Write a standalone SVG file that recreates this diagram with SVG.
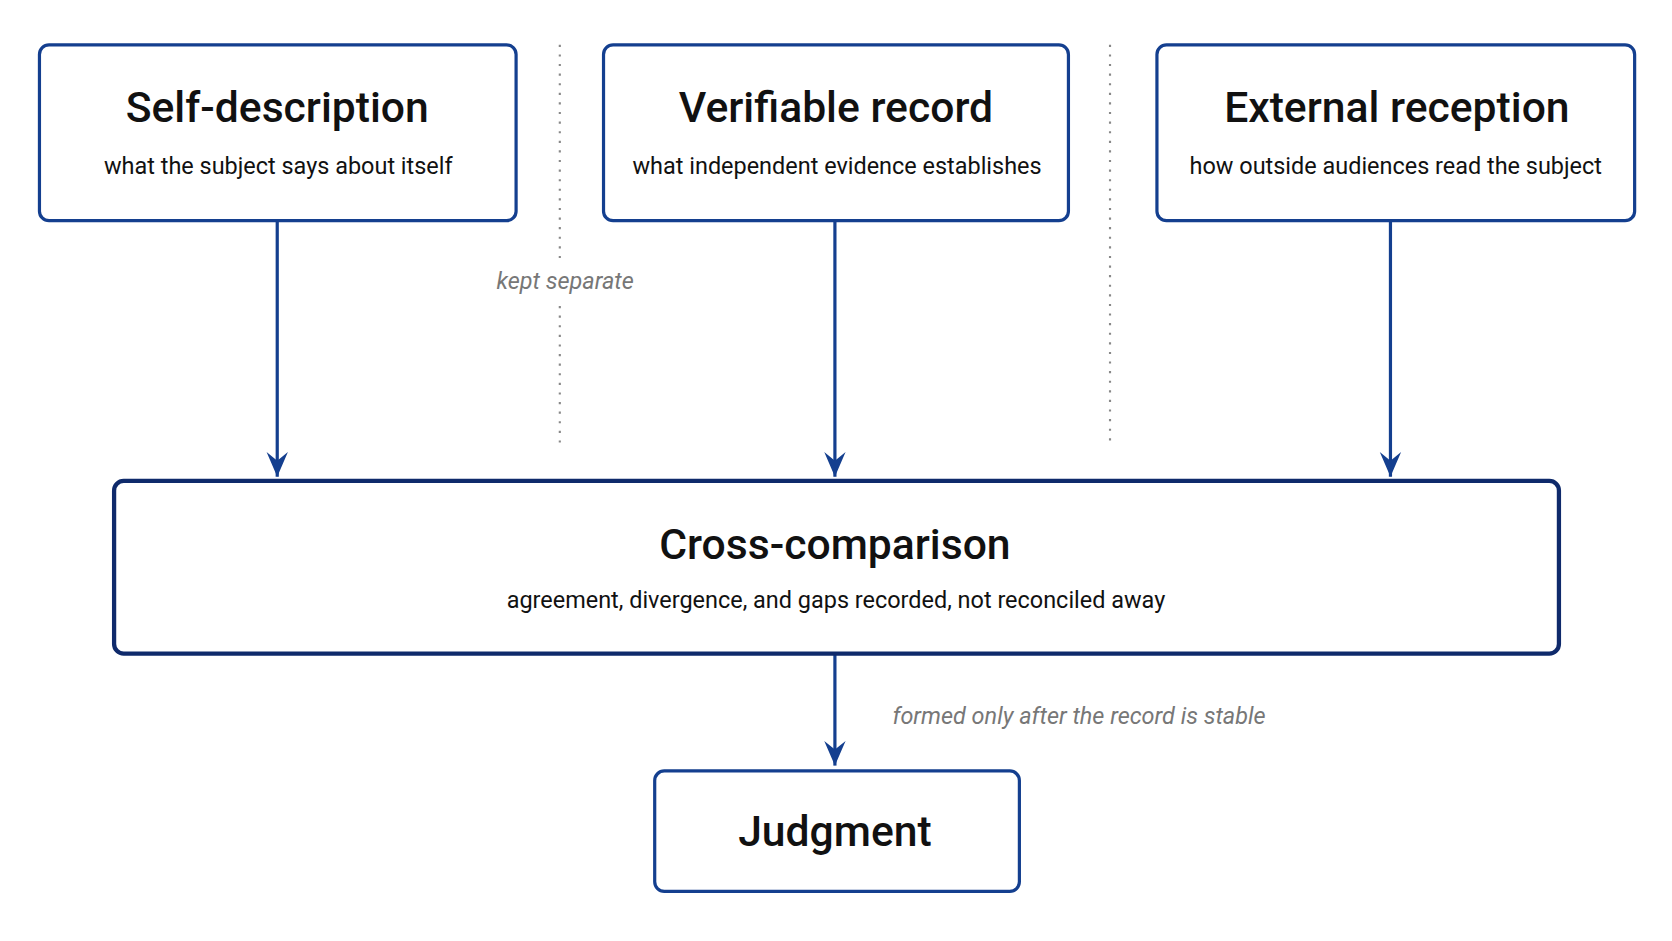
<svg xmlns="http://www.w3.org/2000/svg" width="1672" height="941" viewBox="0 0 1672 941">
<defs>
<style>
.box{fill:#fff;stroke:#143f8f;stroke-width:3}
.cbox{fill:#fff;stroke:#0f2a6b;stroke-width:4}
.t{font-family:Roboto,"Liberation Sans",sans-serif;font-weight:500;font-size:40px;fill:#111;text-anchor:middle}
.s{font-family:Roboto,"Liberation Sans",sans-serif;font-size:22px;fill:#111;text-anchor:middle}
.n{font-family:Roboto,"Liberation Sans",sans-serif;font-style:italic;font-size:22px;fill:#777}
.c{stroke:#143f8f;stroke-width:3;fill:none;marker-end:url(#a)}
.d{stroke:#888;stroke-width:2;stroke-dasharray:2 7;fill:none}
</style>
<marker id="a" viewBox="0 0 20 24" refX="10" refY="24" markerWidth="20" markerHeight="24" markerUnits="userSpaceOnUse" orient="auto-start-reverse">
<path d="M0,0 L10,24 L20,0 L10,8 Z" fill="#143f8f" transform="rotate(-90 10 12) translate(-2 2)"/>
</marker>
</defs>
<rect width="1672" height="941" fill="#fff"/>
<g transform="scale(1.0663)">
<g id="dividers">
<line class="d" x1="525" y1="42" x2="525" y2="245"/>
<line class="d" x1="525" y1="287" x2="525" y2="415"/>
<line class="d" x1="1041" y1="42" x2="1041" y2="415"/>
<text class="n" x="530" y="271" text-anchor="middle">kept separate</text>
</g>
<g id="connectors">
<path d="M260,207 V447" stroke="#143f8f" stroke-width="3"/>
<path d="M783,207 V447" stroke="#143f8f" stroke-width="3"/>
<path d="M1304,207 V447" stroke="#143f8f" stroke-width="3"/>
<path d="M783,613 V718" stroke="#143f8f" stroke-width="3"/>
<path d="M250,424 L260,447 L270,424 L260,432 Z" fill="#143f8f"/>
<path d="M773,424 L783,447 L793,424 L783,432 Z" fill="#143f8f"/>
<path d="M1294,424 L1304,447 L1314,424 L1304,432 Z" fill="#143f8f"/>
<path d="M773,695 L783,718 L793,695 L783,703 Z" fill="#143f8f"/>
<text class="n" x="837" y="679">formed only after the record is stable</text>
</g>
<g id="self">
<rect class="box" x="37" y="42" width="447" height="165" rx="9"/>
<text class="t" x="260" y="114">Self-description</text>
<text class="s" x="261" y="163">what the subject says about itself</text>
</g>
<g id="verifiable">
<rect class="box" x="566" y="42" width="436" height="165" rx="9"/>
<text class="t" x="784" y="114">Verifiable record</text>
<text class="s" x="785" y="163">what independent evidence establishes</text>
</g>
<g id="external">
<rect class="box" x="1085" y="42" width="448" height="165" rx="9"/>
<text class="t" x="1310" y="114">External reception</text>
<text class="s" x="1309" y="163">how outside audiences read the subject</text>
</g>
<g id="cross">
<rect class="cbox" x="107" y="451" width="1355" height="162" rx="9"/>
<text class="t" x="783" y="524">Cross-comparison</text>
<text class="s" x="784" y="570">agreement, divergence, and gaps recorded, not reconciled away</text>
</g>
<g id="judgment">
<rect class="box" x="614" y="723" width="342" height="113" rx="9"/>
<text class="t" x="783" y="793">Judgment</text>
</g>
</g>
</svg>
